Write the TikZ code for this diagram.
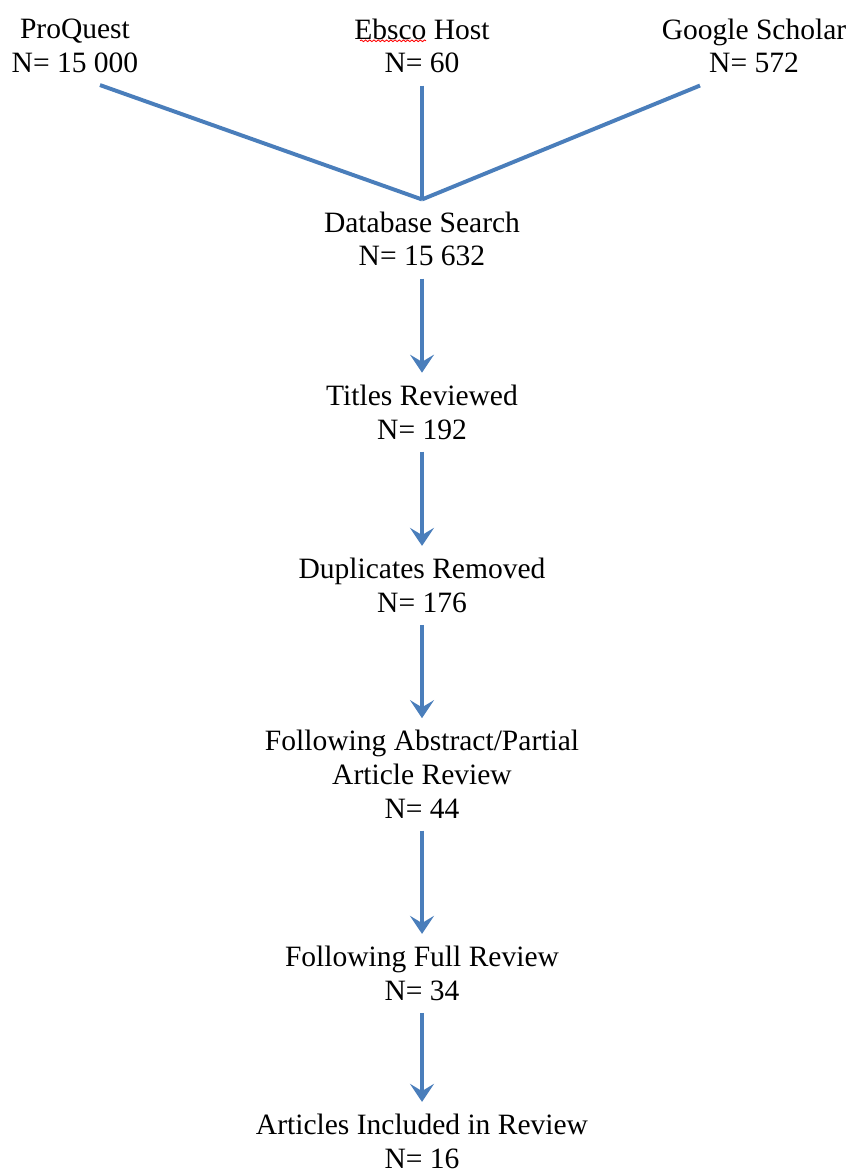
\documentclass[tikz,border=0pt]{standalone}
\usepackage{fontspec}
\setmainfont{Liberation Serif}
\usepackage{xcolor}
\usetikzlibrary{arrows.meta,decorations.pathmorphing}
\definecolor{flowblue}{RGB}{74,126,187}

\begin{document}
\begin{tikzpicture}[>=Stealth, auto, node distance=4.33cm,
    step node/.style={align=center, inner sep=0.3cm, font=\fontsize{21}{24}\selectfont},
    link/.style={draw=flowblue, line width=2.8pt},
    flow/.style={draw=flowblue, line width=2.8pt, -{Stealth[length=0.45cm, width=0.6cm, inset=0.18cm]}}]

            \useasboundingbox (0,0) rectangle (21.25,-29.325);

            \node[step node] (db) at (10.55,-5.975) {Database Search\\N= 15 632};
            \node[step node, node distance=4.825cm] (eb) [above of = db] {Ebsco Host\\N= 60};
            \node[step node, node distance=8.675cm] (pq) [left of = eb] {ProQuest\\N= 15 000};
            \node[step node, node distance=8.3cm] (gs) [right of = eb] {Google Scholar\\N= 572};
            \node[step node] (titles) [below of = db] {Titles Reviewed\\N= 192};
            \node[step node] (dupes) [below of = titles] {Duplicates Removed\\N= 176};
            \node[step node, node distance=4.725cm] (abstract) [below of = dupes] {Following Abstract/Partial\\Article Review\\N= 44};
            \node[step node, node distance=4.975cm] (full) [below of = abstract] {Following Full Review\\N= 34};
            \node[step node, node distance=4.2cm] (included) [below of = full] {Articles Included in Review\\N= 16};

            % spell-check mark
            \draw[red, line width=0.6pt, decorate, decoration={snake, amplitude=0.6pt, segment length=3pt}]
                (9.0,-1.02) -- (10.65,-1.02);

            \draw[link] ([xshift=0.625cm]pq.south) -- (db.north);
            \draw[link] (eb.south) -- (db.north);
            \draw[link] ([xshift=-1.35cm]gs.south) -- (db.north);

            \draw[flow] (db) -- (titles);
            \draw[flow] (titles) -- (dupes);
            \draw[flow] (dupes) -- (abstract);
            \draw[flow] (abstract) -- (full);
            \draw[flow] (full) -- (included);

        \end{tikzpicture}
\end{document}
